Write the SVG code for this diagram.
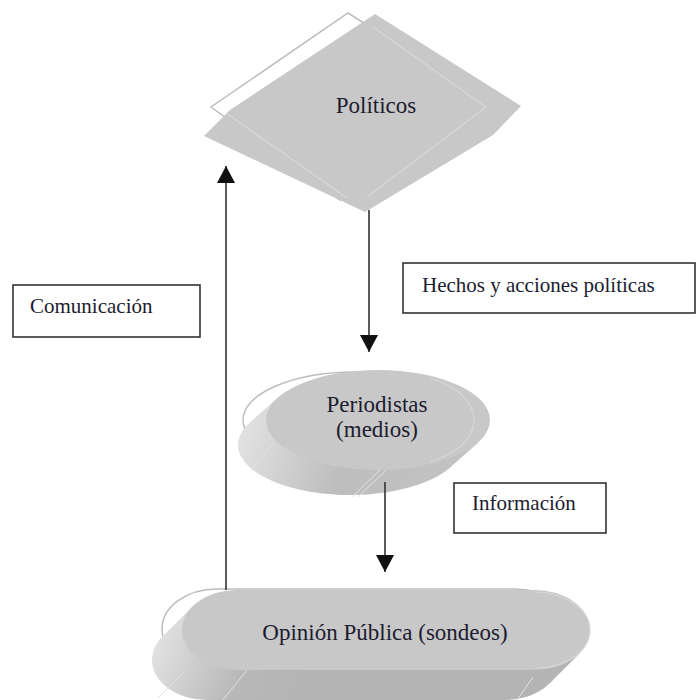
<svg xmlns="http://www.w3.org/2000/svg" width="697" height="700" viewBox="0 0 697 700">
<style>
.lbl{font-family:"Liberation Serif","Times New Roman",serif;font-size:21px;fill:#1c1c30}
.big{font-size:23px}
.box{fill:#ffffff;stroke:#333333;stroke-width:1.6}
.conn{stroke:#333333;stroke-width:1.6;fill:none}
.face{fill:#c8c8c8}
.ghost{fill:#ffffff;stroke:#bdbdbd;stroke-width:1.5}
.hl{fill:none;stroke:#d8d8d8;stroke-width:1.2}
.seam{fill:none;stroke:#e2e2e2;stroke-width:1}
</style>
<defs>
<marker id="ah" viewBox="0 0 17 18" refX="17" refY="9" markerWidth="17" markerHeight="18" markerUnits="userSpaceOnUse" orient="auto">
<path d="M0,0 L17,9 L0,18 Z" fill="#111111"/>
</marker>
<linearGradient id="gP" gradientUnits="userSpaceOnUse" x1="238" y1="420" x2="480" y2="495">
<stop offset="0" stop-color="#e4e4e4"/>
<stop offset="0.45" stop-color="#bdbdbd"/>
<stop offset="1" stop-color="#c4c4c4"/>
</linearGradient>
<linearGradient id="gO" gradientUnits="userSpaceOnUse" x1="150" y1="640" x2="300" y2="700">
<stop offset="0" stop-color="#e4e4e4"/>
<stop offset="0.6" stop-color="#b8b8b8"/>
<stop offset="1" stop-color="#b4b4b4"/>
</linearGradient>
</defs>

<g id="politicos">
<polygon class="ghost" points="348,13 494,105 340,200 211,107"/>
<polygon class="face" points="230,110 375,14 521,106 493,135 365,212 204,136"/>
<polyline class="hl" points="373,27 486,107 367,197"/>
<line class="hl" x1="226" y1="113" x2="347" y2="198"/>
<text class="lbl big" x="376" y="113" text-anchor="middle">Políticos</text>
</g>

<g id="periodistas">
<ellipse class="ghost" cx="355" cy="420" rx="112" ry="48"/>
<path d="M277.8,397.6 L249.8,422.6 A112,50 0 0 0 450.2,467.4 L478.2,442.4 Z" fill="url(#gP)"/>
<line class="seam" x1="274" y1="443" x2="250" y2="470"/>
<line class="seam" x1="380" y1="470" x2="352" y2="497"/>
<line class="seam" x1="386" y1="470" x2="358" y2="497"/>
<ellipse class="face" cx="378" cy="420" rx="112" ry="50"/>
<path class="hl" d="M430,378 A80,47 0 0 1 430,462"/>
<text class="lbl big" x="377" y="412" text-anchor="middle">Periodistas</text>
<text class="lbl big" x="377" y="437" text-anchor="middle">(medios)</text>
</g>

<g id="opinion">
<rect class="ghost" x="162" y="589" width="408" height="80" rx="55" ry="40"/>
<rect x="152" y="620" width="408" height="80" rx="55" ry="40" fill="url(#gO)"/>
<polygon points="192.5,606.5 162.5,636.5 549.5,683.5 579.5,653.5" fill="url(#gO)"/>
<line class="seam" x1="183" y1="673" x2="158" y2="698"/>
<line class="seam" x1="247" y1="670" x2="223" y2="700"/>
<line class="seam" x1="533" y1="677" x2="517" y2="700"/>
<rect class="face" x="182" y="590" width="408" height="80" rx="55" ry="40"/>
<path class="hl" d="M535,592 A55,38 0 0 1 535,668"/>
<text class="lbl big" x="385" y="640" text-anchor="middle">Opinión Pública (sondeos)</text>
</g>

<g id="comunicacion">
<rect class="box" x="13" y="285" width="187" height="52"/>
<text class="lbl" x="30" y="313">Comunicación</text>
</g>

<g id="hechos">
<rect class="box" x="403" y="263" width="292" height="50"/>
<text class="lbl" x="422" y="292">Hechos y acciones políticas</text>
</g>

<g id="informacion">
<rect class="box" x="454" y="483" width="152" height="50"/>
<text class="lbl" x="472" y="510">Información</text>
</g>

<g id="connectors">
<line class="conn" x1="226" y1="590" x2="226" y2="166" marker-end="url(#ah)"/>
<line class="conn" x1="369" y1="210" x2="369" y2="352" marker-end="url(#ah)"/>
<line class="conn" x1="385" y1="482" x2="385" y2="572" marker-end="url(#ah)"/>
</g>
</svg>
